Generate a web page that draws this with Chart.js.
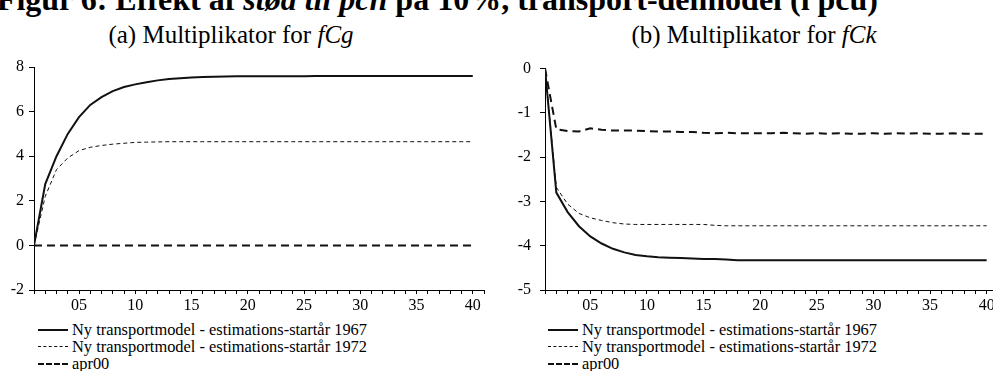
<!DOCTYPE html>
<html>
<head>
<meta charset="utf-8">
<script src="https://cdn.jsdelivr.net/npm/chart.js@4/dist/chart.umd.min.js"></script>
<style>
    body { margin: 0; background: #fff; }
    #wrap { position: relative; width: 993px; height: 371px; overflow: hidden; font-family: "Liberation Serif", "Times New Roman", serif; color: #000; }
    .title { position: absolute; left: -222px; width: 1100px; top: -17px; font-size: 32px; line-height: 32px; font-weight: bold; text-align: right; white-space: nowrap; }
    .sub { position: absolute; top: 22px; font-size: 25px; line-height: 25px; white-space: nowrap; transform: translateX(-50%); }
    canvas { position: absolute; top: 50px; }
    .legend { position: absolute; top: 321px; font-size: 16.4px; line-height: 17px; }
    .row { position: relative; height: 17px; white-space: nowrap; }
    .row span.ln { position: absolute; left: 0; top: 8px; width: 30px; height: 0; }
    .row span.tx { position: absolute; left: 34px; top: 0; }
</style>
</head>
<body>
<div id="wrap">
    <div class="title">Figur 6: Effekt af <i>stød til pcn</i> på 10%, transport-delmodel (i pcu)</div>
    <div class="sub" style="left:231px">(a) Multiplikator for <i>fCg</i></div>
    <div class="sub" style="left:754px">(b) Multiplikator for <i>fCk</i></div>
    <canvas id="chartA" width="490" height="270" style="left:0"></canvas>
    <canvas id="chartB" width="500" height="270" style="left:500px"></canvas>
    <div class="legend" id="legendA" style="left:38px"></div>
    <div class="legend" id="legendB" style="left:548px"></div>
</div>
<script>
// periods 1..40
const periods = [1, 2, 3, 4, 5, 6, 7, 8, 9, 10, 11, 12, 13, 14, 15, 16, 17, 18, 19, 20,
    21, 22, 23, 24, 25, 26, 27, 28, 29, 30, 31, 32, 33, 34, 35, 36, 37, 38, 39, 40];

const seriesNames = ['Ny transportmodel - estimations-startår 1967',
    'Ny transportmodel - estimations-startår 1972', 'apr00'];

/* (a) fCg */
const fCg1967 = [0, 2.75, 4.0, 5.0, 5.75, 6.3, 6.65, 6.92, 7.1, 7.22, 7.32, 7.4, 7.46, 7.5, 7.53, 7.55, 7.56, 7.57, 7.58, 7.58,
    7.59, 7.59, 7.59, 7.59, 7.59, 7.6, 7.6, 7.6, 7.6, 7.6, 7.6, 7.6, 7.6, 7.6, 7.6, 7.6, 7.6, 7.6, 7.6, 7.6];
const fCg1972 = [0, 2.2, 3.4, 3.92, 4.25, 4.4, 4.48, 4.54, 4.58, 4.62, 4.63, 4.64, 4.65, 4.65, 4.65, 4.65, 4.65, 4.65, 4.65, 4.65,
    4.65, 4.65, 4.65, 4.65, 4.65, 4.65, 4.65, 4.65, 4.65, 4.65, 4.65, 4.65, 4.65, 4.65, 4.65, 4.65, 4.65, 4.65, 4.65, 4.65];
const fCgApr00 = [0, 0, 0, 0, 0, 0, 0, 0, 0, 0, 0, 0, 0, 0, 0, 0, 0, 0, 0, 0,
    0, 0, 0, 0, 0, 0, 0, 0, 0, 0, 0, 0, 0, 0, 0, 0, 0, 0, 0, 0];

/* (b) fCk */
const fCk1967 = [0, -2.8, -3.24, -3.56, -3.79, -3.95, -4.07, -4.15, -4.21, -4.24, -4.26, -4.27, -4.28, -4.29, -4.3, -4.3, -4.31, -4.33, -4.33, -4.33,
    -4.33, -4.33, -4.33, -4.33, -4.33, -4.33, -4.33, -4.33, -4.33, -4.33, -4.33, -4.33, -4.33, -4.33, -4.33, -4.33, -4.33, -4.33, -4.33, -4.33];
const fCk1972 = [0, -2.68, -3.06, -3.27, -3.37, -3.43, -3.48, -3.51, -3.52, -3.52, -3.52, -3.52, -3.52, -3.52, -3.52, -3.54, -3.55, -3.55, -3.55, -3.55,
    -3.55, -3.55, -3.55, -3.55, -3.55, -3.55, -3.55, -3.55, -3.55, -3.55, -3.55, -3.55, -3.55, -3.55, -3.55, -3.55, -3.55, -3.55, -3.55, -3.55];
const fCkApr00 = [0, -1.37, -1.41, -1.42, -1.35, -1.38, -1.4, -1.4, -1.4, -1.41, -1.42, -1.42, -1.43, -1.43, -1.45, -1.46, -1.45, -1.46, -1.46, -1.46,
    -1.46, -1.45, -1.46, -1.47, -1.46, -1.47, -1.46, -1.47, -1.47, -1.46, -1.47, -1.46, -1.47, -1.46, -1.47, -1.47, -1.46, -1.47, -1.47, -1.47];

// line styles: solid, thin dashed, thick dashed
const styles = [
    { borderWidth: 2, borderDash: [] },
    { borderWidth: 1, borderDash: [4, 3] },
    { borderWidth: 2, borderDash: [8, 5] }
];

function toPts(vals) {
    return periods.map(function (p, i) { return { x: p, y: vals[i] }; });
}

Chart.defaults.font.family = 'Liberation Serif';
Chart.defaults.font.size = 16;
Chart.defaults.color = '#000';

function makeChart(id, seriesList, yMin, yMax, yStep, yAxisWidth, padRight, yPad) {
    const ctx = document.querySelector(id).getContext('2d');
    return new Chart(ctx, {
        type: 'line',
        data: {
            datasets: seriesList.map(function (vals, i) {
                return {
                    label: seriesNames[i],
                    data: toPts(vals),
                    borderColor: '#111',
                    borderWidth: styles[i].borderWidth,
                    borderDash: styles[i].borderDash,
                    pointRadius: 0,
                    fill: false,
                    tension: 0
                };
            })
        },
        options: {
            responsive: false,
            animation: false,
            devicePixelRatio: 1,
            layout: { padding: { top: 17, right: padRight, left: 0, bottom: 0 } },
            plugins: { legend: { display: false }, tooltip: { enabled: false } },
            scales: {
                x: {
                    type: 'linear',
                    min: 1,
                    max: 41,
                    grid: { drawOnChartArea: false, drawTicks: true, tickLength: 4, color: '#000' },
                    border: { display: true, color: '#000', width: 1 },
                    ticks: {
                        stepSize: 1,
                        autoSkip: false,
                        maxRotation: 0,
                        padding: 2,
                        callback: function (v) { return v % 5 === 0 ? String(v).padStart(2, '0') : ''; }
                    },
                    afterFit: function (s) { s.height = 30; }
                },
                y: {
                    min: yMin,
                    max: yMax,
                    grid: { drawOnChartArea: false, drawTicks: true, tickLength: 5, color: '#000' },
                    border: { display: true, color: '#000', width: 1 },
                    ticks: { stepSize: yStep, padding: yPad },
                    afterFit: function (s) { s.width = yAxisWidth; }
                }
            }
        }
    });
}

makeChart('#chartA', [fCg1967, fCg1972, fCgApr00], -2, 8, 2, 34, 6, 5);
makeChart('#chartB', [fCk1967, fCk1972, fCkApr00], -5, 0, 1, 45, 0, 9);

// legends under each panel
function makeLegend(id) {
    const box = document.querySelector(id);
    seriesNames.forEach(function (name, i) {
        const row = document.createElement('div');
        row.className = 'row';
        const ln = document.createElement('span');
        ln.className = 'ln';
        const st = styles[i];
        ln.style.borderTop = st.borderWidth + 'px ' + (st.borderDash.length ? 'dashed' : 'solid') + ' #111';
        const tx = document.createElement('span');
        tx.className = 'tx';
        tx.textContent = name;
        row.appendChild(ln);
        row.appendChild(tx);
        box.appendChild(row);
    });
}
makeLegend('#legendA');
makeLegend('#legendB');
</script>
</body>
</html>
